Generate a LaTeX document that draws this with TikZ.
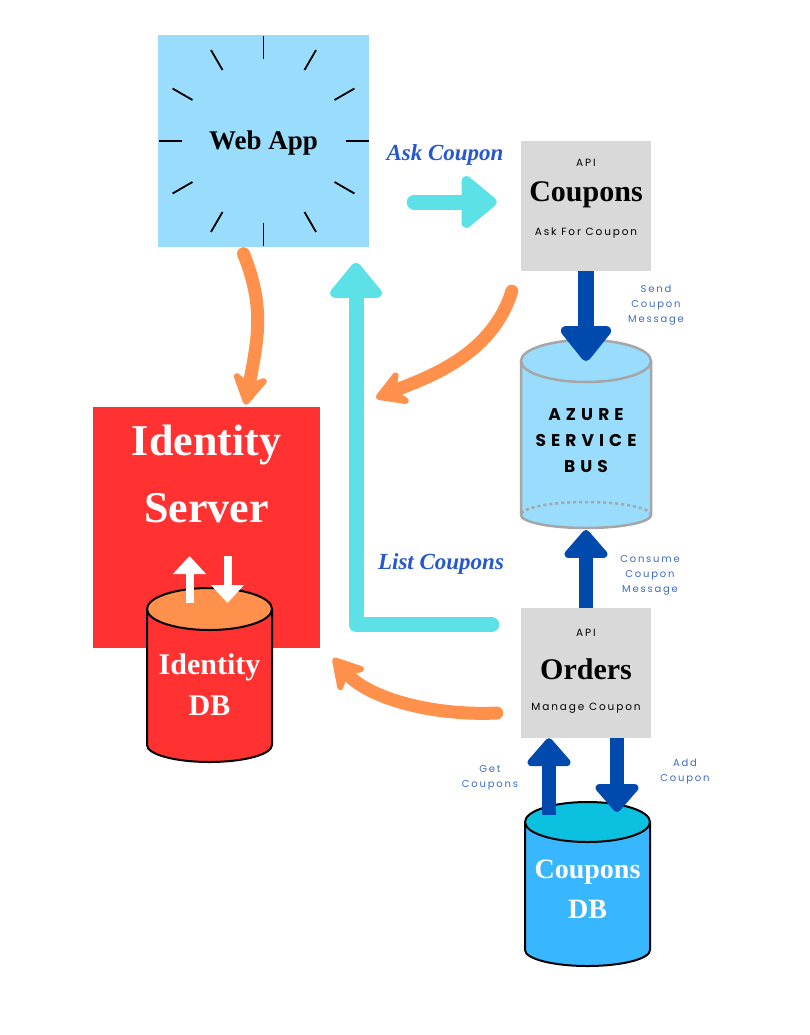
\documentclass[tikz,border=0pt]{standalone}
\usepackage{fontspec}
\usepackage{tikz}
\definecolor{webblue}{RGB}{153,220,252}
\definecolor{askcyan}{RGB}{92,225,230}
\definecolor{deepblue}{RGB}{0,74,173}
\definecolor{textblue}{RGB}{37,88,208}
\definecolor{noteblue}{RGB}{60,105,200}
\definecolor{lightorange}{RGB}{255,145,77}
\definecolor{idred}{RGB}{255,49,49}
\definecolor{apigray}{RGB}{217,217,217}
\definecolor{busgray}{RGB}{166,166,166}
\definecolor{dbblue}{RGB}{56,182,255}
\definecolor{dbtop}{RGB}{12,192,223}
\newfontfamily\popfont[LetterSpace=18]{Poppins}
\newfontfamily\busfont[LetterSpace=30]{Poppins}
\newfontfamily\labfont{Liberation Serif}
\usetikzlibrary{arrows.meta}
\usetikzlibrary{positioning}

\begin{document}
\begin{tikzpicture}[x=1pt,y=-1pt]
        \tikzset{apibox/.style={fill=apigray, minimum size=130pt, inner sep=0pt},
                title/.style={font=\labfont\fontsize{#1}{#1}\selectfont\bfseries, inner sep=0pt},
                small/.style={font=\popfont\fontsize{10.5}{12}\selectfont, inner sep=0pt},
                note/.style={font=\popfont\fontsize{10}{15}\selectfont, text=noteblue, align=center, inner sep=0pt},
                saying/.style={font=\labfont\fontsize{23}{25}\selectfont\bfseries\itshape, text=textblue},
                flow/.style={line width=16pt, deepblue, -{Triangle[width=58pt,length=38pt,round]}},
                flowsmall/.style={line width=14pt, deepblue, -{Triangle[width=50pt,length=30pt,round]}},
                fatcyan/.style={line width=15pt, askcyan, line cap=round, line join=round,
                        -{Triangle[width=60pt,length=38pt,round]}},
                swoosh/.style={line width=13pt, lightorange, line cap=round,
                        -{Stealth[width=44pt,length=38pt,inset=13pt,round]}},
                whitearrow/.style={line width=8pt, white, -{Triangle[width=32pt,length=18pt]}}}

        \useasboundingbox (0,0) rectangle (810,1035);

        % web app
        \node[fill=webblue, minimum size=211pt, inner sep=0pt] (web) at (263.5,141) {};
        \foreach \a in {0,30,...,330}
                \draw[line width=1.8pt] (web.center) ++(\a:82) -- ++(\a:23);
        \node[title=27] at (263.5,143) {Web App};

        % apis
        \node[apibox] (coupons) at (586,206) {};
        \node[small] at (586,163) {API};
        \node[title=30] at (586,195) {Coupons};
        \node[small] at (586,233) {Ask For Coupon};

        \node[apibox] (orders) at (586,673) {};
        \node[small] at (586,633) {API};
        \node[title=30] at (586,669) {Orders};
        \node[small] at (586,708) {Manage Coupon};

        % service bus
        \fill[webblue] (521,361) -- (521,515) arc[start angle=180, end angle=0, x radius=65, y radius=13] -- (651,361) -- cycle;
        \draw[busgray, line width=2.5pt] (521,361) -- (521,515) arc[start angle=180, end angle=0, x radius=65, y radius=13] -- (651,361);
        \draw[busgray, line width=2.5pt, dashed] (651,515) arc[start angle=0, end angle=-180, x radius=65, y radius=13];
        \filldraw[fill=webblue, draw=busgray, line width=2.5pt] (586,361) ellipse [x radius=65, y radius=21];
        \node[font=\busfont\fontsize{17}{26}\selectfont\bfseries, align=center] (bus) at (586,441) {AZURE\\SERVICE\\BUS};
        \coordinate (bustop) at (586,361);
        \coordinate (busbase) at (586,530);

        % identity server
        \node[fill=idred, minimum width=227pt, minimum height=241pt, inner sep=0pt] (ids) at (206.5,527.5) {};
        \node[title=44, text=white] at (206.5,445) {Identity};
        \node[title=44, text=white] at (206.5,508) {Server};

        \fill[idred] (147,609) -- (147,745) arc[start angle=180, end angle=0, x radius=62.5, y radius=17] -- (272,609) -- cycle;
        \draw[line width=2pt] (147,609) -- (147,745) arc[start angle=180, end angle=0, x radius=62.5, y radius=17] -- (272,609);
        \filldraw[fill=lightorange, line width=2pt] (209.5,609) ellipse [x radius=62.5, y radius=21];
        \node[title=30, text=white, align=center] (iddb) at (209.5,685) {Identity\\[11pt]DB};
        \coordinate (iddbtop) at (209.5,603);

        \draw[whitearrow] ([xshift=-20pt]iddbtop) -- ([xshift=-20pt]iddbtop |- 0,556);
        \draw[whitearrow] ([xshift=18pt]iddbtop |- 0,556) -- ([xshift=18pt]iddbtop);

        % coupons db
        \fill[dbblue] (525,822) -- (525,950) arc[start angle=180, end angle=0, x radius=62.5, y radius=16] -- (650,822) -- cycle;
        \draw[line width=2pt] (525,822) -- (525,950) arc[start angle=180, end angle=0, x radius=62.5, y radius=16] -- (650,822);
        \filldraw[fill=dbtop, line width=2pt] (587.5,822) ellipse [x radius=62.5, y radius=20];
        \node[title=28, text=white, align=center] (coupondb) at (587.5,889) {Coupons\\[12pt]DB};
        \coordinate (getfoot) at (549,815);
        \coordinate (addfoot) at (617,812);

        % messages
        \draw[fatcyan] (web.east |- 0,202) -- (coupons.west |- 0,202) [shorten <=45pt, shorten >=24pt];
        \draw[flow] (coupons.south) -- (bustop);
        \draw[flowsmall] (orders.north) -- (busbase);
        \draw[flowsmall] (getfoot) -- (getfoot |- orders.south);
        \draw[flowsmall] (addfoot |- orders.south) -- (addfoot);
        \draw[fatcyan, shorten >=16pt] ([xshift=-29pt,yshift=-17pt]orders.north west) -| ([xshift=92.5pt]web.south);

        % auth
        \draw[swoosh] ([xshift=-20pt,yshift=-7pt]web.south) .. controls +(22,55) and +(12,-65) .. ([xshift=39pt,yshift=2pt]ids.north);
        \draw[swoosh] ([xshift=-9pt,yshift=-20pt]coupons.south west) .. controls +(-20,65) and +(50,-20) .. (376,398);
        \draw[swoosh] ([xshift=-24pt,yshift=-40pt]orders.west) .. controls +(-65,3) and +(35,40) .. ([xshift=13pt,yshift=-10pt]ids.south east);

        % labels
        \node[saying] at (445,155) {Ask Coupon};
        \node[saying] at (441,564) {List Coupons};
        \node[note] at (656,305) {Send\\Coupon\\Message};
        \node[note] at (650,575) {Consume\\Coupon\\Message};
        \node[note] at (490,778) {Get\\Coupons};
        \node[note] at (685,772) {Add\\Coupon};

    \end{tikzpicture}
\end{document}
